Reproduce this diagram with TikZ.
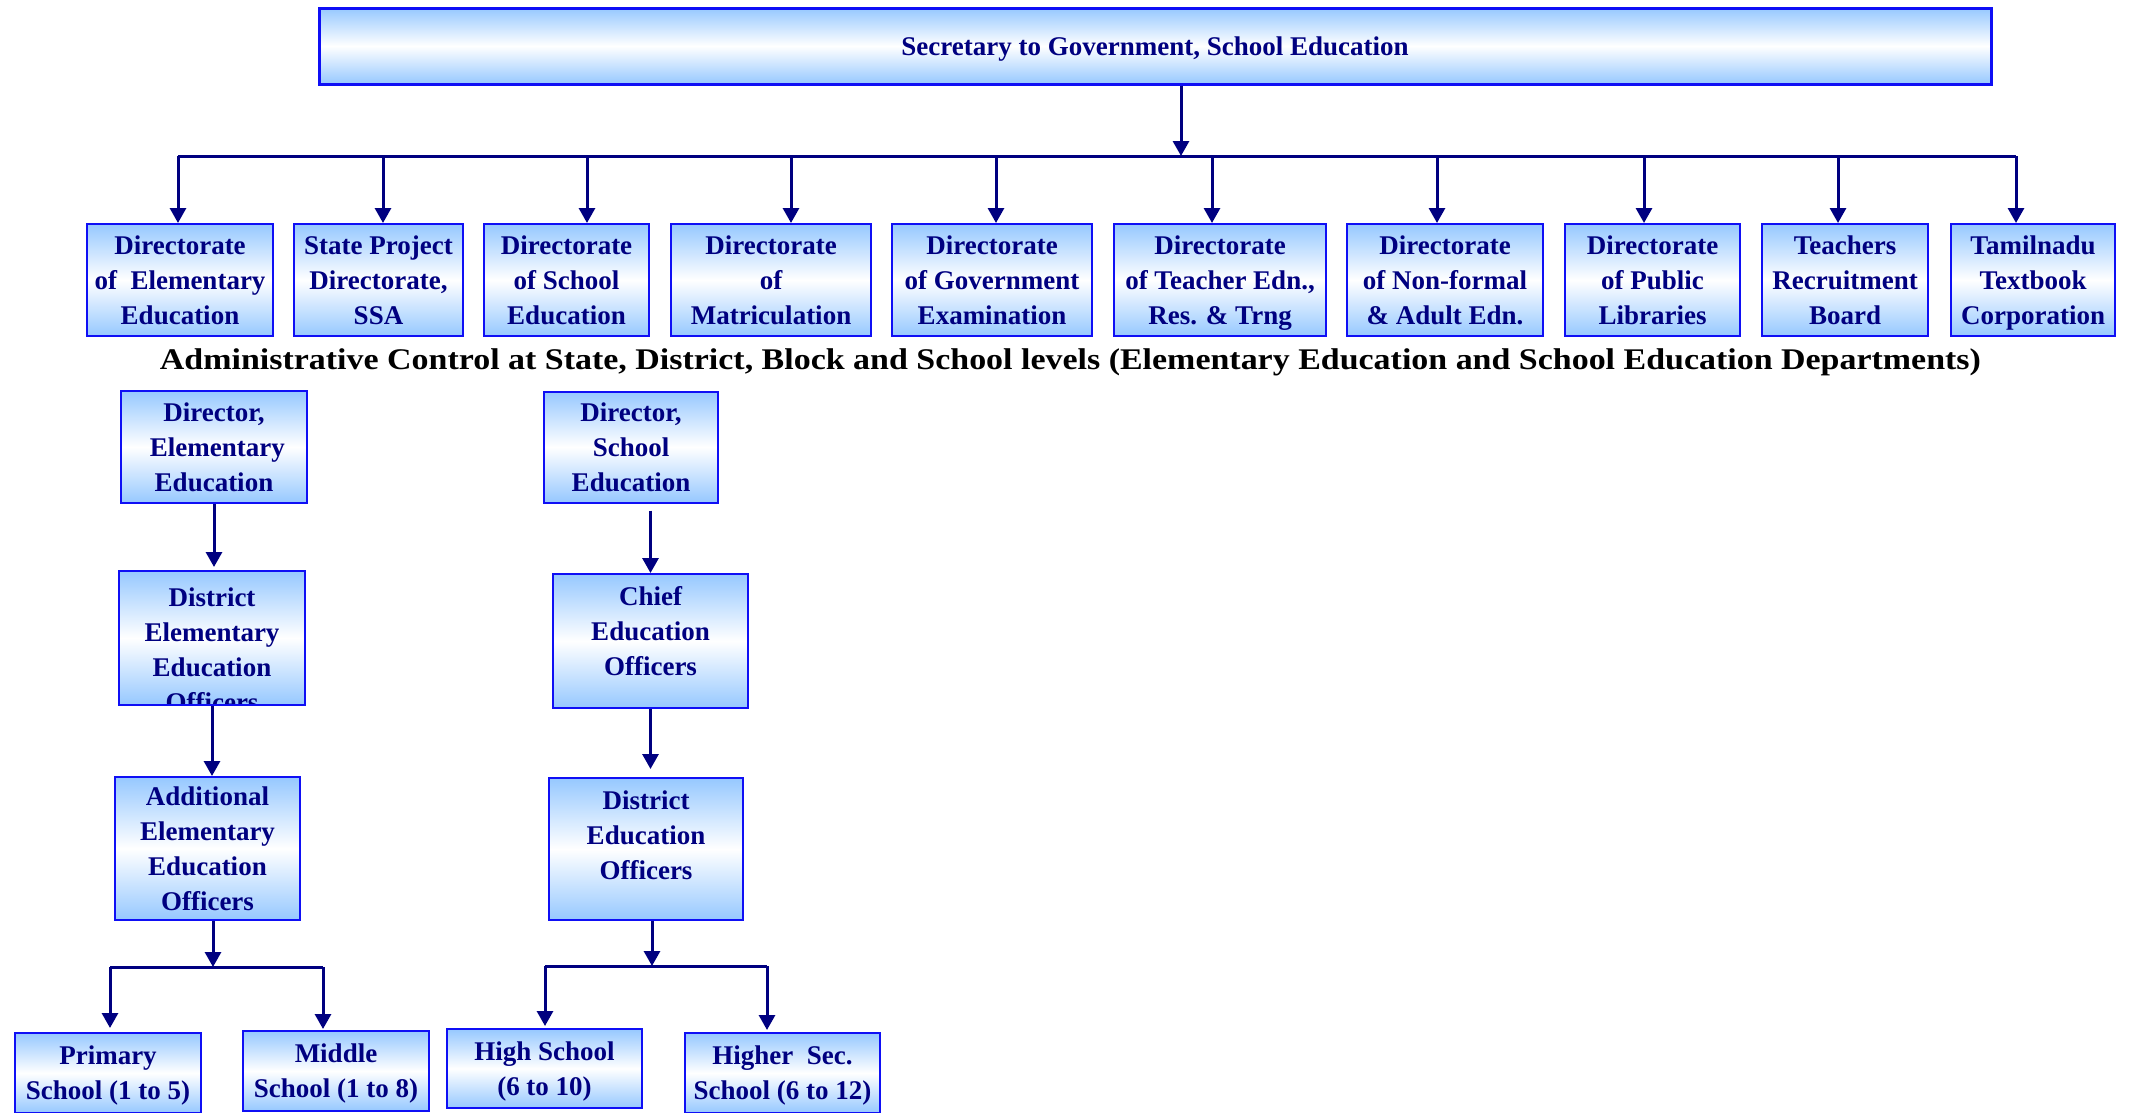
\documentclass[tikz,border=0pt]{standalone}
\usepackage{fontspec}
\setmainfont{Liberation Serif}
\usepackage{graphicx}
\usepackage{xcolor}
\usetikzlibrary{arrows.meta,positioning}

\definecolor{boxblue}{RGB}{150,200,255}
\definecolor{boxline}{RGB}{15,15,245}
\definecolor{navytext}{RGB}{0,0,128}

\begin{document}
\begin{tikzpicture}[x=1pt,y=-1pt,
box/.style={
  draw=boxline,
  line width=2pt,
  top color=boxblue,
  bottom color=boxblue,
  middle color=white,
  text=navytext,
  font=\fontsize{27}{35}\selectfont\bfseries,
  align=center,
  inner sep=0pt,
  text depth=0pt,
  minimum height=112
},
arr/.style={
  draw=navytext,
  line width=3pt,
  -{Triangle[width=16pt,length=15pt]}
},
bus/.style={
  draw=navytext,
  line width=3pt
}
]
\useasboundingbox (0,0) rectangle (2130,1112);

% top level
\node[box,line width=3pt,minimum width=1672,minimum height=76] 
  (sec) at (1155,46) {Secretary to Government, School Education};
\coordinate (hub) at (1181,156);
\coordinate (busl) at (178,156);
\coordinate (busr) at (2016,156);
\draw[arr] (hub |- sec.south) -- (hub);
\draw[bus] (busl) -- (busr);

% directorates
\foreach \cx/\w/\ax/\txt [count=\i] in {
  180/186/178/{Directorate\\of~ Elementary\\Education},
  378.5/169/383/{State Project\\Directorate,\\SSA},
  566.5/165/587/{Directorate\\of School\\Education},
  771/200/791/{Directorate\\of\\Matriculation},
  992/200/996/{Directorate\\of Government\\Examination},
  1220/212/1212/{Directorate\\of Teacher Edn.,\\Res. \& Trng},
  1445/196/1437/{Directorate\\of Non-formal\\\& Adult Edn.},
  1652.5/175/1644/{Directorate\\of Public\\Libraries},
  1845/166/1838/{Teachers\\Recruitment\\Board},
  2033/164/2016/{Tamilnadu\\Textbook\\Corporation}}{
  \node[box,minimum width=\w] (dir\i) at (\cx,280) {\txt};
  \coordinate (drop\i) at (\ax,156);
  \draw[arr] (drop\i) -- (drop\i |- dir\i.north);
}

\node[font=\fontsize{30}{36}\selectfont\bfseries] (caption) at (1070.5,362) 
  {\resizebox{1821pt}{\height}{Administrative Control at State, District, Block and School levels (Elementary Education and School Education Departments)}};

% elementary education column
\node[box,minimum width=186] (dee) at (214,447) {Director,\\~Elementary\\Education};
\node[box,minimum width=186,minimum height=134,
  path picture={
    \node[anchor=north,text=navytext,align=center,inner sep=0pt,
      font=\fontsize{27}{35}\selectfont\bfseries] (deeotxt)
      at ([yshift=-11pt]path picture bounding box.north)
      {District\\Elementary\\Education\\Officers};
  }] (deeo) at (212,638) {};
\node[box,minimum width=185,minimum height=143] 
  (aeeo) at (207.5,848.5) {Additional\\Elementary\\Education\\Officers};
\node[box,minimum width=186,minimum height=80] 
  (prim) at (108,1073) {Primary\\School (1 to 5)};
\node[box,minimum width=186,minimum height=80] 
  (mid) at (336,1071) {Middle\\School (1 to 8)};

\draw[arr,shorten >=3pt] (dee.south) -- (dee.south |- deeo.north);
\draw[arr] (deeo.south) -- (deeo.south |- aeeo.north);
\coordinate (lhub) at (213,967);
\coordinate (lbl) at (110,967);
\coordinate (lbr) at (323,967);
\draw[arr] (lhub |- aeeo.south) -- (lhub);
\draw[bus] (lbl) -- (lbr);
\draw[arr,shorten >=4pt] (lbl) -- (lbl |- prim.north);
\draw[arr,shorten >=1pt] (lbr) -- (lbr |- mid.north);

% school education column
\node[box,minimum width=174,minimum height=111] 
  (dse) at (631,447) {Director,\\School\\Education};
\node[box,minimum width=195,minimum height=134,text depth=20pt] 
  (ceo) at (650.5,641) {Chief\\Education\\Officers};
\node[box,minimum width=194,minimum height=142,text depth=28pt] 
  (deo) at (646,849) {District\\Education\\Officers};
\node[box,minimum width=195,minimum height=79] 
  (hs) at (544.5,1068.5) {High School\\(6 to 10)};
\node[box,minimum width=195,minimum height=80] 
  (hsec) at (782.5,1073) {Higher~ Sec.\\School (6 to 12)};

\coordinate (shub) at (ceo.north |- dse.south);
\draw[arr,shorten <=7pt] (shub) -- (ceo.north);
\draw[arr,shorten >=8pt] (ceo.south) -- (ceo.south |- deo.north);
\coordinate (rhub) at (652,966);
\coordinate (rbl) at (545,966);
\coordinate (rbr) at (767,966);
\draw[arr] (rhub |- deo.south) -- (rhub);
\draw[bus] (rbl) -- (rbr);
\draw[arr,shorten >=2pt] (rbl) -- (rbl |- hs.north);
\draw[arr,shorten >=2pt] (rbr) -- (rbr |- hsec.north);
\end{tikzpicture}
\end{document}
